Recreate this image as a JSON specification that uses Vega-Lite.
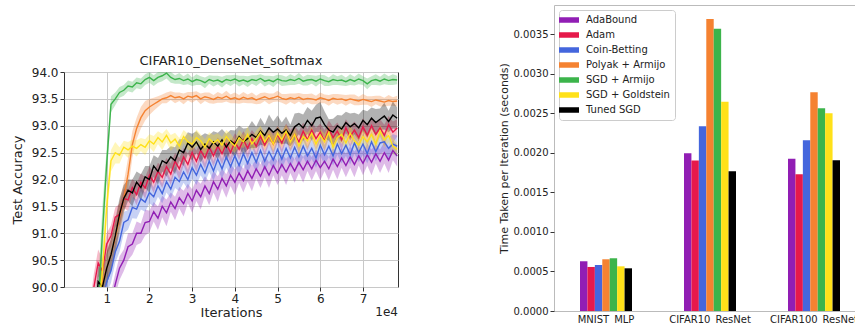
{
"$schema": "https://vega.github.io/schema/vega-lite/v6.json",
"padding": {"left": 10, "top": 4, "right": 0, "bottom": 0},
"config": {
  "font": "DejaVu Sans",
  "view": {"stroke": null},
  "axis": {"labelFont": "DejaVu Sans", "titleFont": "DejaVu Sans", "labelColor": "#222", "titleColor": "#222", "titleFontWeight": "normal", "tickColor": "#333", "domain": false, "labelOverlap": false},
  "title": {"font": "DejaVu Sans", "fontWeight": "normal", "color": "#222"},
  "legend": {"labelFont": "DejaVu Sans", "labelColor": "#222"}
},
"resolve": {"scale": {"color": "independent"}},
"spacing": 98,
"hconcat": [
 {"spacing": 0, "vconcat": [
  {"width": 334, "height": 49, "data": {"values": [{"t": ""}]}, "mark": {"type": "text", "text": ""}, "encoding": {}},
  {"width": 334, "height": 215,
   "title": {"text": "CIFAR10_DenseNet_softmax", "fontSize": 13, "offset": -2, "frame": "group"},
   "view": {"stroke": "#333", "strokeWidth": 1},
   "resolve": {"axis": {"y": "independent"}},
   "data": {"values": [
{"s":"AB","x":6000,"y":87.0,"e":0.2},{"s":"AB","x":7000,"y":87.6,"e":0.2},{"s":"AB","x":8000,"y":88.2,"e":0.2},{"s":"AB","x":9000,"y":88.8,"e":0.2},{"s":"AB","x":10000,"y":89.3,"e":0.2},{"s":"AB","x":11000,"y":89.7,"e":0.2},{"s":"AB","x":12000,"y":90.05,"e":0.2},{"s":"AB","x":13000,"y":90.35,"e":0.22},{"s":"AB","x":14000,"y":90.5,"e":0.2},{"s":"AB","x":15000,"y":90.75,"e":0.25},{"s":"AB","x":16000,"y":90.8,"e":0.2},{"s":"AB","x":17000,"y":91.0,"e":0.22},{"s":"AB","x":18000,"y":91.0,"e":0.18},{"s":"AB","x":19000,"y":91.2,"e":0.24},{"s":"AB","x":20000,"y":91.22,"e":0.2},{"s":"AB","x":21000,"y":91.4,"e":0.18},{"s":"AB","x":22000,"y":91.28,"e":0.22},{"s":"AB","x":23000,"y":91.5,"e":0.2},{"s":"AB","x":24000,"y":91.38,"e":0.25},{"s":"AB","x":25000,"y":91.58,"e":0.18},{"s":"AB","x":26000,"y":91.46,"e":0.22},{"s":"AB","x":27000,"y":91.66,"e":0.2},{"s":"AB","x":28000,"y":91.55,"e":0.24},{"s":"AB","x":29000,"y":91.74,"e":0.18},{"s":"AB","x":30000,"y":91.6,"e":0.22},{"s":"AB","x":31000,"y":91.8,"e":0.2},{"s":"AB","x":32000,"y":91.68,"e":0.24},{"s":"AB","x":33000,"y":91.88,"e":0.18},{"s":"AB","x":34000,"y":91.74,"e":0.22},{"s":"AB","x":35000,"y":91.96,"e":0.2},{"s":"AB","x":36000,"y":91.82,"e":0.24},{"s":"AB","x":37000,"y":92.02,"e":0.18},{"s":"AB","x":38000,"y":91.88,"e":0.22},{"s":"AB","x":39000,"y":92.08,"e":0.2},{"s":"AB","x":40000,"y":91.95,"e":0.24},{"s":"AB","x":41000,"y":92.12,"e":0.18},{"s":"AB","x":42000,"y":91.98,"e":0.22},{"s":"AB","x":43000,"y":92.16,"e":0.2},{"s":"AB","x":44000,"y":92.02,"e":0.24},{"s":"AB","x":45000,"y":92.2,"e":0.18},{"s":"AB","x":46000,"y":92.06,"e":0.22},{"s":"AB","x":47000,"y":92.24,"e":0.2},{"s":"AB","x":48000,"y":92.08,"e":0.24},{"s":"AB","x":49000,"y":92.26,"e":0.18},{"s":"AB","x":50000,"y":92.12,"e":0.22},{"s":"AB","x":51000,"y":92.28,"e":0.2},{"s":"AB","x":52000,"y":92.14,"e":0.24},{"s":"AB","x":53000,"y":92.3,"e":0.18},{"s":"AB","x":54000,"y":92.16,"e":0.22},{"s":"AB","x":55000,"y":92.32,"e":0.2},{"s":"AB","x":56000,"y":92.18,"e":0.24},{"s":"AB","x":57000,"y":92.34,"e":0.18},{"s":"AB","x":58000,"y":92.2,"e":0.22},{"s":"AB","x":59000,"y":92.36,"e":0.2},{"s":"AB","x":60000,"y":92.22,"e":0.24},{"s":"AB","x":61000,"y":92.34,"e":0.18},{"s":"AB","x":62000,"y":92.2,"e":0.22},{"s":"AB","x":63000,"y":92.38,"e":0.2},{"s":"AB","x":64000,"y":92.24,"e":0.24},{"s":"AB","x":65000,"y":92.4,"e":0.18},{"s":"AB","x":66000,"y":92.26,"e":0.22},{"s":"AB","x":67000,"y":92.42,"e":0.2},{"s":"AB","x":68000,"y":92.28,"e":0.24},{"s":"AB","x":69000,"y":92.44,"e":0.18},{"s":"AB","x":70000,"y":92.3,"e":0.22},{"s":"AB","x":71000,"y":92.46,"e":0.2},{"s":"AB","x":72000,"y":92.32,"e":0.24},{"s":"AB","x":73000,"y":92.48,"e":0.18},{"s":"AB","x":74000,"y":92.34,"e":0.22},{"s":"AB","x":75000,"y":92.5,"e":0.2},{"s":"AB","x":76000,"y":92.36,"e":0.24},{"s":"AB","x":77000,"y":92.54,"e":0.18},{"s":"AB","x":78000,"y":92.44,"e":0.2},
{"s":"AD","x":6000,"y":89.4,"e":0.25},{"s":"AD","x":7000,"y":90.0,"e":0.25},{"s":"AD","x":8000,"y":90.45,"e":0.25},{"s":"AD","x":9000,"y":90.3,"e":0.22},{"s":"AD","x":10000,"y":90.8,"e":0.2},{"s":"AD","x":11000,"y":90.95,"e":0.2},{"s":"AD","x":12000,"y":91.3,"e":0.18},{"s":"AD","x":13000,"y":91.35,"e":0.2},{"s":"AD","x":14000,"y":91.65,"e":0.18},{"s":"AD","x":15000,"y":91.62,"e":0.2},{"s":"AD","x":16000,"y":91.85,"e":0.16},{"s":"AD","x":17000,"y":91.72,"e":0.2},{"s":"AD","x":18000,"y":91.95,"e":0.16},{"s":"AD","x":19000,"y":91.84,"e":0.2},{"s":"AD","x":20000,"y":92.08,"e":0.16},{"s":"AD","x":21000,"y":91.95,"e":0.2},{"s":"AD","x":22000,"y":92.15,"e":0.16},{"s":"AD","x":23000,"y":92.04,"e":0.2},{"s":"AD","x":24000,"y":92.24,"e":0.16},{"s":"AD","x":25000,"y":92.1,"e":0.2},{"s":"AD","x":26000,"y":92.34,"e":0.16},{"s":"AD","x":27000,"y":92.2,"e":0.2},{"s":"AD","x":28000,"y":92.42,"e":0.16},{"s":"AD","x":29000,"y":92.28,"e":0.2},{"s":"AD","x":30000,"y":92.5,"e":0.16},{"s":"AD","x":31000,"y":92.34,"e":0.2},{"s":"AD","x":32000,"y":92.54,"e":0.16},{"s":"AD","x":33000,"y":92.4,"e":0.2},{"s":"AD","x":34000,"y":92.6,"e":0.16},{"s":"AD","x":35000,"y":92.44,"e":0.2},{"s":"AD","x":36000,"y":92.62,"e":0.16},{"s":"AD","x":37000,"y":92.48,"e":0.2},{"s":"AD","x":38000,"y":92.66,"e":0.16},{"s":"AD","x":39000,"y":92.5,"e":0.2},{"s":"AD","x":40000,"y":92.7,"e":0.16},{"s":"AD","x":41000,"y":92.56,"e":0.2},{"s":"AD","x":42000,"y":92.74,"e":0.16},{"s":"AD","x":43000,"y":92.58,"e":0.2},{"s":"AD","x":44000,"y":92.76,"e":0.16},{"s":"AD","x":45000,"y":92.62,"e":0.2},{"s":"AD","x":46000,"y":92.8,"e":0.16},{"s":"AD","x":47000,"y":92.64,"e":0.2},{"s":"AD","x":48000,"y":92.82,"e":0.16},{"s":"AD","x":49000,"y":92.66,"e":0.2},{"s":"AD","x":50000,"y":92.84,"e":0.16},{"s":"AD","x":51000,"y":92.68,"e":0.2},{"s":"AD","x":52000,"y":92.88,"e":0.16},{"s":"AD","x":53000,"y":92.72,"e":0.2},{"s":"AD","x":54000,"y":92.84,"e":0.16},{"s":"AD","x":55000,"y":92.7,"e":0.2},{"s":"AD","x":56000,"y":92.9,"e":0.16},{"s":"AD","x":57000,"y":92.74,"e":0.2},{"s":"AD","x":58000,"y":92.92,"e":0.16},{"s":"AD","x":59000,"y":92.76,"e":0.2},{"s":"AD","x":60000,"y":92.88,"e":0.16},{"s":"AD","x":61000,"y":92.72,"e":0.2},{"s":"AD","x":62000,"y":92.94,"e":0.16},{"s":"AD","x":63000,"y":92.78,"e":0.2},{"s":"AD","x":64000,"y":92.9,"e":0.16},{"s":"AD","x":65000,"y":92.74,"e":0.2},{"s":"AD","x":66000,"y":92.96,"e":0.16},{"s":"AD","x":67000,"y":92.8,"e":0.2},{"s":"AD","x":68000,"y":92.92,"e":0.16},{"s":"AD","x":69000,"y":92.78,"e":0.2},{"s":"AD","x":70000,"y":92.98,"e":0.16},{"s":"AD","x":71000,"y":92.82,"e":0.2},{"s":"AD","x":72000,"y":93.0,"e":0.16},{"s":"AD","x":73000,"y":92.84,"e":0.2},{"s":"AD","x":74000,"y":92.96,"e":0.16},{"s":"AD","x":75000,"y":92.82,"e":0.2},{"s":"AD","x":76000,"y":93.02,"e":0.16},{"s":"AD","x":77000,"y":92.88,"e":0.2},{"s":"AD","x":78000,"y":92.96,"e":0.16},
{"s":"CB","x":6000,"y":88.2,"e":0.25},{"s":"CB","x":7000,"y":88.8,"e":0.25},{"s":"CB","x":8000,"y":89.3,"e":0.25},{"s":"CB","x":9000,"y":89.7,"e":0.25},{"s":"CB","x":10000,"y":90.1,"e":0.22},{"s":"CB","x":11000,"y":90.3,"e":0.22},{"s":"CB","x":12000,"y":90.65,"e":0.2},{"s":"CB","x":13000,"y":90.85,"e":0.2},{"s":"CB","x":14000,"y":91.2,"e":0.2},{"s":"CB","x":15000,"y":91.25,"e":0.18},{"s":"CB","x":16000,"y":91.48,"e":0.2},{"s":"CB","x":17000,"y":91.45,"e":0.18},{"s":"CB","x":18000,"y":91.64,"e":0.2},{"s":"CB","x":19000,"y":91.58,"e":0.18},{"s":"CB","x":20000,"y":91.76,"e":0.2},{"s":"CB","x":21000,"y":91.68,"e":0.18},{"s":"CB","x":22000,"y":91.88,"e":0.2},{"s":"CB","x":23000,"y":91.74,"e":0.18},{"s":"CB","x":24000,"y":91.96,"e":0.2},{"s":"CB","x":25000,"y":91.82,"e":0.18},{"s":"CB","x":26000,"y":92.04,"e":0.2},{"s":"CB","x":27000,"y":91.96,"e":0.18},{"s":"CB","x":28000,"y":92.14,"e":0.2},{"s":"CB","x":29000,"y":92.0,"e":0.18},{"s":"CB","x":30000,"y":92.22,"e":0.2},{"s":"CB","x":31000,"y":92.08,"e":0.18},{"s":"CB","x":32000,"y":92.28,"e":0.2},{"s":"CB","x":33000,"y":92.12,"e":0.18},{"s":"CB","x":34000,"y":92.34,"e":0.2},{"s":"CB","x":35000,"y":92.16,"e":0.18},{"s":"CB","x":36000,"y":92.38,"e":0.2},{"s":"CB","x":37000,"y":92.2,"e":0.18},{"s":"CB","x":38000,"y":92.42,"e":0.2},{"s":"CB","x":39000,"y":92.24,"e":0.18},{"s":"CB","x":40000,"y":92.44,"e":0.2},{"s":"CB","x":41000,"y":92.26,"e":0.18},{"s":"CB","x":42000,"y":92.48,"e":0.2},{"s":"CB","x":43000,"y":92.3,"e":0.18},{"s":"CB","x":44000,"y":92.5,"e":0.2},{"s":"CB","x":45000,"y":92.32,"e":0.18},{"s":"CB","x":46000,"y":92.54,"e":0.2},{"s":"CB","x":47000,"y":92.34,"e":0.18},{"s":"CB","x":48000,"y":92.52,"e":0.2},{"s":"CB","x":49000,"y":92.36,"e":0.18},{"s":"CB","x":50000,"y":92.56,"e":0.2},{"s":"CB","x":51000,"y":92.38,"e":0.18},{"s":"CB","x":52000,"y":92.58,"e":0.2},{"s":"CB","x":53000,"y":92.4,"e":0.18},{"s":"CB","x":54000,"y":92.6,"e":0.2},{"s":"CB","x":55000,"y":92.42,"e":0.18},{"s":"CB","x":56000,"y":92.62,"e":0.2},{"s":"CB","x":57000,"y":92.44,"e":0.18},{"s":"CB","x":58000,"y":92.58,"e":0.2},{"s":"CB","x":59000,"y":92.4,"e":0.18},{"s":"CB","x":60000,"y":92.64,"e":0.2},{"s":"CB","x":61000,"y":92.46,"e":0.18},{"s":"CB","x":62000,"y":92.62,"e":0.2},{"s":"CB","x":63000,"y":92.44,"e":0.18},{"s":"CB","x":64000,"y":92.66,"e":0.2},{"s":"CB","x":65000,"y":92.48,"e":0.18},{"s":"CB","x":66000,"y":92.64,"e":0.2},{"s":"CB","x":67000,"y":92.46,"e":0.18},{"s":"CB","x":68000,"y":92.68,"e":0.2},{"s":"CB","x":69000,"y":92.5,"e":0.18},{"s":"CB","x":70000,"y":92.66,"e":0.2},{"s":"CB","x":71000,"y":92.48,"e":0.18},{"s":"CB","x":72000,"y":92.7,"e":0.2},{"s":"CB","x":73000,"y":92.52,"e":0.18},{"s":"CB","x":74000,"y":92.68,"e":0.2},{"s":"CB","x":75000,"y":92.7,"e":0.18},{"s":"CB","x":76000,"y":92.58,"e":0.2},{"s":"CB","x":77000,"y":92.66,"e":0.18},{"s":"CB","x":78000,"y":92.62,"e":0.2},
{"s":"PA","x":6000,"y":88.5,"e":0.3},{"s":"PA","x":7000,"y":89.0,"e":0.3},{"s":"PA","x":8000,"y":89.6,"e":0.3},{"s":"PA","x":9000,"y":90.1,"e":0.3},{"s":"PA","x":10000,"y":90.35,"e":0.3},{"s":"PA","x":11000,"y":90.6,"e":0.3},{"s":"PA","x":12000,"y":90.9,"e":0.3},{"s":"PA","x":13000,"y":91.3,"e":0.3},{"s":"PA","x":14000,"y":91.65,"e":0.3},{"s":"PA","x":15000,"y":92.1,"e":0.3},{"s":"PA","x":16000,"y":92.65,"e":0.25},{"s":"PA","x":17000,"y":92.95,"e":0.2},{"s":"PA","x":18000,"y":93.15,"e":0.2},{"s":"PA","x":19000,"y":93.28,"e":0.18},{"s":"PA","x":20000,"y":93.35,"e":0.15},{"s":"PA","x":21000,"y":93.4,"e":0.12},{"s":"PA","x":22000,"y":93.45,"e":0.1},{"s":"PA","x":23000,"y":93.5,"e":0.08},{"s":"PA","x":24000,"y":93.52,"e":0.1},{"s":"PA","x":25000,"y":93.56,"e":0.08},{"s":"PA","x":26000,"y":93.52,"e":0.1},{"s":"PA","x":27000,"y":93.54,"e":0.08},{"s":"PA","x":28000,"y":93.5,"e":0.1},{"s":"PA","x":29000,"y":93.55,"e":0.08},{"s":"PA","x":30000,"y":93.53,"e":0.1},{"s":"PA","x":31000,"y":93.56,"e":0.08},{"s":"PA","x":32000,"y":93.5,"e":0.1},{"s":"PA","x":33000,"y":93.54,"e":0.08},{"s":"PA","x":34000,"y":93.52,"e":0.1},{"s":"PA","x":35000,"y":93.49,"e":0.08},{"s":"PA","x":36000,"y":93.53,"e":0.1},{"s":"PA","x":37000,"y":93.51,"e":0.08},{"s":"PA","x":38000,"y":93.55,"e":0.1},{"s":"PA","x":39000,"y":93.5,"e":0.08},{"s":"PA","x":40000,"y":93.52,"e":0.1},{"s":"PA","x":41000,"y":93.49,"e":0.08},{"s":"PA","x":42000,"y":93.53,"e":0.1},{"s":"PA","x":43000,"y":93.5,"e":0.08},{"s":"PA","x":44000,"y":93.52,"e":0.1},{"s":"PA","x":45000,"y":93.48,"e":0.08},{"s":"PA","x":46000,"y":93.51,"e":0.1},{"s":"PA","x":47000,"y":93.54,"e":0.08},{"s":"PA","x":48000,"y":93.5,"e":0.1},{"s":"PA","x":49000,"y":93.52,"e":0.08},{"s":"PA","x":50000,"y":93.55,"e":0.1},{"s":"PA","x":51000,"y":93.51,"e":0.08},{"s":"PA","x":52000,"y":93.49,"e":0.1},{"s":"PA","x":53000,"y":93.52,"e":0.08},{"s":"PA","x":54000,"y":93.5,"e":0.1},{"s":"PA","x":55000,"y":93.53,"e":0.08},{"s":"PA","x":56000,"y":93.49,"e":0.1},{"s":"PA","x":57000,"y":93.51,"e":0.08},{"s":"PA","x":58000,"y":93.5,"e":0.1},{"s":"PA","x":59000,"y":93.48,"e":0.08},{"s":"PA","x":60000,"y":93.52,"e":0.1},{"s":"PA","x":61000,"y":93.5,"e":0.08},{"s":"PA","x":62000,"y":93.47,"e":0.1},{"s":"PA","x":63000,"y":93.51,"e":0.08},{"s":"PA","x":64000,"y":93.49,"e":0.1},{"s":"PA","x":65000,"y":93.5,"e":0.08},{"s":"PA","x":66000,"y":93.47,"e":0.1},{"s":"PA","x":67000,"y":93.5,"e":0.08},{"s":"PA","x":68000,"y":93.48,"e":0.1},{"s":"PA","x":69000,"y":93.46,"e":0.08},{"s":"PA","x":70000,"y":93.49,"e":0.1},{"s":"PA","x":71000,"y":93.47,"e":0.08},{"s":"PA","x":72000,"y":93.45,"e":0.1},{"s":"PA","x":73000,"y":93.48,"e":0.08},{"s":"PA","x":74000,"y":93.46,"e":0.1},{"s":"PA","x":75000,"y":93.44,"e":0.08},{"s":"PA","x":76000,"y":93.47,"e":0.1},{"s":"PA","x":77000,"y":93.45,"e":0.08},{"s":"PA","x":78000,"y":93.46,"e":0.1},
{"s":"SA","x":6000,"y":86.5,"e":0.5},{"s":"SA","x":7000,"y":88.0,"e":0.5},{"s":"SA","x":8000,"y":89.6,"e":0.5},{"s":"SA","x":9000,"y":91.0,"e":0.5},{"s":"SA","x":10000,"y":92.3,"e":0.3},{"s":"SA","x":11000,"y":93.4,"e":0.15},{"s":"SA","x":12000,"y":93.5,"e":0.12},{"s":"SA","x":13000,"y":93.62,"e":0.1},{"s":"SA","x":14000,"y":93.66,"e":0.1},{"s":"SA","x":15000,"y":93.74,"e":0.1},{"s":"SA","x":16000,"y":93.72,"e":0.1},{"s":"SA","x":17000,"y":93.8,"e":0.1},{"s":"SA","x":18000,"y":93.78,"e":0.1},{"s":"SA","x":19000,"y":93.86,"e":0.1},{"s":"SA","x":20000,"y":93.9,"e":0.1},{"s":"SA","x":21000,"y":93.84,"e":0.1},{"s":"SA","x":22000,"y":93.9,"e":0.1},{"s":"SA","x":23000,"y":93.93,"e":0.1},{"s":"SA","x":24000,"y":93.98,"e":0.1},{"s":"SA","x":25000,"y":93.9,"e":0.1},{"s":"SA","x":26000,"y":93.86,"e":0.08},{"s":"SA","x":27000,"y":93.88,"e":0.1},{"s":"SA","x":28000,"y":93.84,"e":0.08},{"s":"SA","x":29000,"y":93.87,"e":0.1},{"s":"SA","x":30000,"y":93.82,"e":0.08},{"s":"SA","x":31000,"y":93.86,"e":0.1},{"s":"SA","x":32000,"y":93.84,"e":0.08},{"s":"SA","x":33000,"y":93.8,"e":0.1},{"s":"SA","x":34000,"y":93.86,"e":0.08},{"s":"SA","x":35000,"y":93.83,"e":0.1},{"s":"SA","x":36000,"y":93.85,"e":0.08},{"s":"SA","x":37000,"y":93.81,"e":0.1},{"s":"SA","x":38000,"y":93.86,"e":0.08},{"s":"SA","x":39000,"y":93.84,"e":0.1},{"s":"SA","x":40000,"y":93.87,"e":0.08},{"s":"SA","x":41000,"y":93.83,"e":0.1},{"s":"SA","x":42000,"y":93.85,"e":0.08},{"s":"SA","x":43000,"y":93.82,"e":0.1},{"s":"SA","x":44000,"y":93.86,"e":0.08},{"s":"SA","x":45000,"y":93.84,"e":0.1},{"s":"SA","x":46000,"y":93.88,"e":0.08},{"s":"SA","x":47000,"y":93.83,"e":0.1},{"s":"SA","x":48000,"y":93.85,"e":0.08},{"s":"SA","x":49000,"y":93.82,"e":0.1},{"s":"SA","x":50000,"y":93.87,"e":0.08},{"s":"SA","x":51000,"y":93.84,"e":0.1},{"s":"SA","x":52000,"y":93.83,"e":0.08},{"s":"SA","x":53000,"y":93.86,"e":0.1},{"s":"SA","x":54000,"y":93.84,"e":0.08},{"s":"SA","x":55000,"y":93.88,"e":0.1},{"s":"SA","x":56000,"y":93.83,"e":0.08},{"s":"SA","x":57000,"y":93.85,"e":0.1},{"s":"SA","x":58000,"y":93.86,"e":0.08},{"s":"SA","x":59000,"y":93.83,"e":0.1},{"s":"SA","x":60000,"y":93.87,"e":0.08},{"s":"SA","x":61000,"y":93.84,"e":0.1},{"s":"SA","x":62000,"y":93.82,"e":0.08},{"s":"SA","x":63000,"y":93.86,"e":0.1},{"s":"SA","x":64000,"y":93.84,"e":0.08},{"s":"SA","x":65000,"y":93.85,"e":0.1},{"s":"SA","x":66000,"y":93.82,"e":0.08},{"s":"SA","x":67000,"y":93.86,"e":0.1},{"s":"SA","x":68000,"y":93.83,"e":0.08},{"s":"SA","x":69000,"y":93.87,"e":0.1},{"s":"SA","x":70000,"y":93.84,"e":0.08},{"s":"SA","x":71000,"y":93.78,"e":0.1},{"s":"SA","x":72000,"y":93.84,"e":0.08},{"s":"SA","x":73000,"y":93.86,"e":0.1},{"s":"SA","x":74000,"y":93.83,"e":0.08},{"s":"SA","x":75000,"y":93.87,"e":0.1},{"s":"SA","x":76000,"y":93.84,"e":0.08},{"s":"SA","x":77000,"y":93.86,"e":0.1},{"s":"SA","x":78000,"y":93.85,"e":0.08},
{"s":"TS","x":6000,"y":88.6,"e":0.3},{"s":"TS","x":7000,"y":89.2,"e":0.3},{"s":"TS","x":8000,"y":90.1,"e":0.3},{"s":"TS","x":9000,"y":90.0,"e":0.3},{"s":"TS","x":10000,"y":90.35,"e":0.3},{"s":"TS","x":11000,"y":90.6,"e":0.3},{"s":"TS","x":12000,"y":90.95,"e":0.3},{"s":"TS","x":13000,"y":91.35,"e":0.3},{"s":"TS","x":14000,"y":91.65,"e":0.25},{"s":"TS","x":15000,"y":91.8,"e":0.2},{"s":"TS","x":16000,"y":91.75,"e":0.25},{"s":"TS","x":17000,"y":91.95,"e":0.2},{"s":"TS","x":18000,"y":91.85,"e":0.25},{"s":"TS","x":19000,"y":92.05,"e":0.2},{"s":"TS","x":20000,"y":92.0,"e":0.25},{"s":"TS","x":21000,"y":92.25,"e":0.2},{"s":"TS","x":22000,"y":92.15,"e":0.25},{"s":"TS","x":23000,"y":92.35,"e":0.2},{"s":"TS","x":24000,"y":92.3,"e":0.25},{"s":"TS","x":25000,"y":92.42,"e":0.2},{"s":"TS","x":26000,"y":92.35,"e":0.25},{"s":"TS","x":27000,"y":92.55,"e":0.2},{"s":"TS","x":28000,"y":92.5,"e":0.25},{"s":"TS","x":29000,"y":92.68,"e":0.2},{"s":"TS","x":30000,"y":92.6,"e":0.25},{"s":"TS","x":31000,"y":92.7,"e":0.2},{"s":"TS","x":32000,"y":92.56,"e":0.25},{"s":"TS","x":33000,"y":92.66,"e":0.2},{"s":"TS","x":34000,"y":92.58,"e":0.25},{"s":"TS","x":35000,"y":92.7,"e":0.2},{"s":"TS","x":36000,"y":92.62,"e":0.25},{"s":"TS","x":37000,"y":92.74,"e":0.2},{"s":"TS","x":38000,"y":92.6,"e":0.25},{"s":"TS","x":39000,"y":92.72,"e":0.2},{"s":"TS","x":40000,"y":92.66,"e":0.25},{"s":"TS","x":41000,"y":92.8,"e":0.2},{"s":"TS","x":42000,"y":92.7,"e":0.25},{"s":"TS","x":43000,"y":92.76,"e":0.2},{"s":"TS","x":44000,"y":92.84,"e":0.25},{"s":"TS","x":45000,"y":92.78,"e":0.2},{"s":"TS","x":46000,"y":92.9,"e":0.25},{"s":"TS","x":47000,"y":92.82,"e":0.2},{"s":"TS","x":48000,"y":92.96,"e":0.25},{"s":"TS","x":49000,"y":92.88,"e":0.2},{"s":"TS","x":50000,"y":92.94,"e":0.25},{"s":"TS","x":51000,"y":92.86,"e":0.2},{"s":"TS","x":52000,"y":92.92,"e":0.25},{"s":"TS","x":53000,"y":92.82,"e":0.2},{"s":"TS","x":54000,"y":92.98,"e":0.25},{"s":"TS","x":55000,"y":93.04,"e":0.2},{"s":"TS","x":56000,"y":92.96,"e":0.25},{"s":"TS","x":57000,"y":93.1,"e":0.25},{"s":"TS","x":58000,"y":93.0,"e":0.28},{"s":"TS","x":59000,"y":93.14,"e":0.25},{"s":"TS","x":60000,"y":93.16,"e":0.28},{"s":"TS","x":61000,"y":93.02,"e":0.25},{"s":"TS","x":62000,"y":92.92,"e":0.2},{"s":"TS","x":63000,"y":92.88,"e":0.25},{"s":"TS","x":64000,"y":93.0,"e":0.2},{"s":"TS","x":65000,"y":92.94,"e":0.25},{"s":"TS","x":66000,"y":93.06,"e":0.2},{"s":"TS","x":67000,"y":92.98,"e":0.25},{"s":"TS","x":68000,"y":93.04,"e":0.2},{"s":"TS","x":69000,"y":92.96,"e":0.25},{"s":"TS","x":70000,"y":93.1,"e":0.2},{"s":"TS","x":71000,"y":93.02,"e":0.25},{"s":"TS","x":72000,"y":93.14,"e":0.2},{"s":"TS","x":73000,"y":93.06,"e":0.25},{"s":"TS","x":74000,"y":93.12,"e":0.2},{"s":"TS","x":75000,"y":93.18,"e":0.25},{"s":"TS","x":76000,"y":93.08,"e":0.2},{"s":"TS","x":77000,"y":93.2,"e":0.25},{"s":"TS","x":78000,"y":93.14,"e":0.2},
{"s":"SG","x":6000,"y":88.0,"e":0.3},{"s":"SG","x":7000,"y":88.8,"e":0.3},{"s":"SG","x":8000,"y":89.5,"e":0.3},{"s":"SG","x":9000,"y":90.3,"e":0.3},{"s":"SG","x":10000,"y":91.5,"e":0.3},{"s":"SG","x":11000,"y":92.35,"e":0.2},{"s":"SG","x":12000,"y":92.5,"e":0.2},{"s":"SG","x":13000,"y":92.45,"e":0.15},{"s":"SG","x":14000,"y":92.6,"e":0.12},{"s":"SG","x":15000,"y":92.55,"e":0.15},{"s":"SG","x":16000,"y":92.62,"e":0.12},{"s":"SG","x":17000,"y":92.58,"e":0.15},{"s":"SG","x":18000,"y":92.65,"e":0.12},{"s":"SG","x":19000,"y":92.6,"e":0.15},{"s":"SG","x":20000,"y":92.72,"e":0.12},{"s":"SG","x":21000,"y":92.66,"e":0.15},{"s":"SG","x":22000,"y":92.78,"e":0.12},{"s":"SG","x":23000,"y":92.7,"e":0.15},{"s":"SG","x":24000,"y":92.82,"e":0.12},{"s":"SG","x":25000,"y":92.68,"e":0.15},{"s":"SG","x":26000,"y":92.75,"e":0.12},{"s":"SG","x":27000,"y":92.62,"e":0.15},{"s":"SG","x":28000,"y":92.8,"e":0.12},{"s":"SG","x":29000,"y":92.7,"e":0.15},{"s":"SG","x":30000,"y":92.66,"e":0.12},{"s":"SG","x":31000,"y":92.78,"e":0.15},{"s":"SG","x":32000,"y":92.72,"e":0.12},{"s":"SG","x":33000,"y":92.6,"e":0.15},{"s":"SG","x":34000,"y":92.76,"e":0.12},{"s":"SG","x":35000,"y":92.68,"e":0.15},{"s":"SG","x":36000,"y":92.74,"e":0.12},{"s":"SG","x":37000,"y":92.64,"e":0.15},{"s":"SG","x":38000,"y":92.8,"e":0.12},{"s":"SG","x":39000,"y":92.7,"e":0.15},{"s":"SG","x":40000,"y":92.62,"e":0.12},{"s":"SG","x":41000,"y":92.78,"e":0.15},{"s":"SG","x":42000,"y":92.7,"e":0.12},{"s":"SG","x":43000,"y":92.84,"e":0.15},{"s":"SG","x":44000,"y":92.66,"e":0.12},{"s":"SG","x":45000,"y":92.76,"e":0.15},{"s":"SG","x":46000,"y":92.88,"e":0.12},{"s":"SG","x":47000,"y":92.7,"e":0.15},{"s":"SG","x":48000,"y":92.82,"e":0.12},{"s":"SG","x":49000,"y":92.66,"e":0.15},{"s":"SG","x":50000,"y":92.86,"e":0.12},{"s":"SG","x":51000,"y":92.74,"e":0.15},{"s":"SG","x":52000,"y":92.9,"e":0.12},{"s":"SG","x":53000,"y":92.7,"e":0.15},{"s":"SG","x":54000,"y":92.84,"e":0.12},{"s":"SG","x":55000,"y":92.62,"e":0.15},{"s":"SG","x":56000,"y":92.8,"e":0.12},{"s":"SG","x":57000,"y":92.72,"e":0.15},{"s":"SG","x":58000,"y":92.86,"e":0.12},{"s":"SG","x":59000,"y":92.66,"e":0.15},{"s":"SG","x":60000,"y":92.82,"e":0.12},{"s":"SG","x":61000,"y":92.7,"e":0.15},{"s":"SG","x":62000,"y":92.88,"e":0.12},{"s":"SG","x":63000,"y":92.6,"e":0.15},{"s":"SG","x":64000,"y":92.78,"e":0.12},{"s":"SG","x":65000,"y":92.84,"e":0.15},{"s":"SG","x":66000,"y":92.68,"e":0.12},{"s":"SG","x":67000,"y":92.86,"e":0.15},{"s":"SG","x":68000,"y":92.72,"e":0.12},{"s":"SG","x":69000,"y":92.64,"e":0.15},{"s":"SG","x":70000,"y":92.8,"e":0.12},{"s":"SG","x":71000,"y":92.7,"e":0.15},{"s":"SG","x":72000,"y":92.84,"e":0.12},{"s":"SG","x":73000,"y":92.66,"e":0.15},{"s":"SG","x":74000,"y":92.9,"e":0.12},{"s":"SG","x":75000,"y":92.74,"e":0.15},{"s":"SG","x":76000,"y":92.82,"e":0.12},{"s":"SG","x":77000,"y":92.62,"e":0.15},{"s":"SG","x":78000,"y":92.56,"e":0.12}
   ]},
   "layer": [
    {"mark": {"type": "errorband", "clip": true},
     "encoding": {
      "x": {"field": "x", "type": "quantitative", "scale": {"domain": [0, 78200], "nice": false, "zero": false},
            "axis": {"title": "Iterations", "titleFontSize": 13, "labelFontSize": 12, "values": [10000, 20000, 30000, 40000, 50000, 60000, 70000], "labelExpr": "format(datum.value / 10000, 'd')", "labelOverlap": false, "grid": true, "gridColor": "#c8c8c8", "tickSize": 4, "labelPadding": 2, "titlePadding": 2}},
      "y": {"field": "y", "type": "quantitative", "scale": {"domain": [90, 94], "nice": false, "zero": false}, "axis": null},
      "yError": {"field": "e"},
      "color": {"field": "s", "type": "nominal", "sort": null, "scale": {"domain": ["AB", "AD", "CB", "PA", "SA", "TS", "SG"], "range": ["#911eb4", "#e6194b", "#4466dd", "#f58231", "#3cb44b", "#000000", "#ffe119"]}, "legend": null}
     }},
    {"mark": {"type": "line", "clip": true, "strokeWidth": 1.4},
     "encoding": {
      "x": {"field": "x", "type": "quantitative"},
      "y": {"field": "y", "type": "quantitative",
            "axis": {"orient": "left", "title": "Test Accuracy", "titleFontSize": 13, "labelFontSize": 12, "values": [90, 90.5, 91, 91.5, 92, 92.5, 93, 93.5, 94], "format": ".1f", "labelOverlap": false, "grid": true, "gridColor": "#c8c8c8", "tickSize": 4, "labelPadding": 2, "titlePadding": 7}},
      "color": {"field": "s", "type": "nominal", "sort": null, "legend": null}
     }},
    {"data": {"values": [{"t": "1e4"}]},
     "mark": {"type": "text", "align": "right", "baseline": "top", "dy": 20, "fontSize": 12, "color": "#222"},
     "encoding": {"x": {"datum": 78200, "type": "quantitative"}, "y": {"datum": 90, "type": "quantitative", "axis": null}, "text": {"field": "t"}}}
   ]
  }
 ]},
 {"width": 312, "height": 306,
  "view": {"stroke": "#bbbbbb", "strokeWidth": 1},
  "data": {"values": [
   {"task": "MNIST_MLP", "opt": "AdaBound", "t": 0.000629},
   {"task": "MNIST_MLP", "opt": "Adam", "t": 0.000557},
   {"task": "MNIST_MLP", "opt": "Coin-Betting", "t": 0.000582},
   {"task": "MNIST_MLP", "opt": "Polyak + Armijo", "t": 0.000654},
   {"task": "MNIST_MLP", "opt": "SGD + Armijo", "t": 0.000667},
   {"task": "MNIST_MLP", "opt": "SGD + Goldstein", "t": 0.000565},
   {"task": "MNIST_MLP", "opt": "Tuned SGD", "t": 0.00054},
   {"task": "CIFAR10_ResNet", "opt": "AdaBound", "t": 0.001996},
   {"task": "CIFAR10_ResNet", "opt": "Adam", "t": 0.001903},
   {"task": "CIFAR10_ResNet", "opt": "Coin-Betting", "t": 0.002338},
   {"task": "CIFAR10_ResNet", "opt": "Polyak + Armijo", "t": 0.003692},
   {"task": "CIFAR10_ResNet", "opt": "SGD + Armijo", "t": 0.00357},
   {"task": "CIFAR10_ResNet", "opt": "SGD + Goldstein", "t": 0.002646},
   {"task": "CIFAR10_ResNet", "opt": "Tuned SGD", "t": 0.001768},
   {"task": "CIFAR100_ResNet", "opt": "AdaBound", "t": 0.001924},
   {"task": "CIFAR100_ResNet", "opt": "Adam", "t": 0.00173},
   {"task": "CIFAR100_ResNet", "opt": "Coin-Betting", "t": 0.00216},
   {"task": "CIFAR100_ResNet", "opt": "Polyak + Armijo", "t": 0.002768},
   {"task": "CIFAR100_ResNet", "opt": "SGD + Armijo", "t": 0.002565},
   {"task": "CIFAR100_ResNet", "opt": "SGD + Goldstein", "t": 0.002502},
   {"task": "CIFAR100_ResNet", "opt": "Tuned SGD", "t": 0.001907}
  ]},
  "mark": {"type": "bar"},
  "encoding": {
   "x": {"field": "task", "type": "nominal", "sort": null, "scale": {"paddingInner": 0.5, "paddingOuter": 0.25},
         "axis": {"title": null, "labelAngle": 0, "labelFontSize": 10, "ticks": false, "labelPadding": 3}},
   "xOffset": {"field": "opt", "type": "nominal", "sort": null, "scale": {"paddingInner": 0, "paddingOuter": 0}},
   "y": {"field": "t", "type": "quantitative", "scale": {"domain": [0, 0.00387], "nice": false},
         "axis": {"title": "Time Taken per Iteration (seconds)", "titleFontSize": 11, "labelFontSize": 10, "values": [0, 0.0005, 0.001, 0.0015, 0.002, 0.0025, 0.003, 0.0035], "format": ".4f", "grid": false, "tickSize": 4, "labelPadding": 2, "titlePadding": 4}},
   "color": {"field": "opt", "type": "nominal", "sort": null,
     "scale": {"domain": ["AdaBound", "Adam", "Coin-Betting", "Polyak + Armijo", "SGD + Armijo", "SGD + Goldstein", "Tuned SGD"], "range": ["#911eb4", "#e6194b", "#4466dd", "#f58231", "#3cb44b", "#ffe119", "#000000"]},
     "legend": {"title": null, "orient": "top-left", "offset": 5, "padding": 5, "fillColor": "white", "strokeColor": "#cccccc", "cornerRadius": 3, "labelFontSize": 10, "symbolType": "M-2,-0.55H2V0.55H-2Z", "symbolSize": 100, "symbolStrokeWidth": 0, "symbolOpacity": 1, "labelOffset": 12, "rowPadding": 5}}
  }
 }
]
}
